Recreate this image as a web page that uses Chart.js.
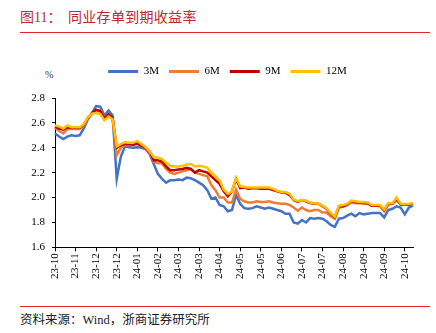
<!DOCTYPE html>
<html>
<head>
<meta charset="utf-8">
<script src="https://cdn.jsdelivr.net/npm/chart.js@4.4.0/dist/chart.umd.min.js"></script>
<style>
  html, body { margin:0; padding:0; background:#fff; }
  body { width:436px; height:333px; position:relative; overflow:hidden; }
  .t { position:absolute; white-space:pre; font-family:"Liberation Serif","Noto Sans CJK SC",serif; }
  .rule { position:absolute; left:20px; width:410px; height:1px; background:#E0282E; }
  #wrap { position:absolute; left:0; top:48px; width:436px; height:233px; }
</style>
</head>
<body>
<div class="t" style="left:20px;top:10px;font-size:14px;line-height:16px;color:#C0282D;">图11：</div>
<div class="t" style="left:68px;top:10px;font-size:14px;line-height:16px;color:#C0282D;letter-spacing:0.3px;">同业存单到期收益率</div>
<div class="rule" style="top:32px;"></div>
<div class="t" style="left:45px;top:69px;font-size:10px;line-height:12px;color:#333;">%</div>
<div id="wrap"><canvas id="c"></canvas></div>
<div class="rule" style="top:306px;"></div>
<div class="t" style="left:20px;top:313px;font-size:12.5px;line-height:15px;color:#222;">资料来源：Wind，浙商证券研究所</div>
<script>
const tickLabels = ['23-10','23-11','23-12','23-12','24-01','24-02','24-03','24-03','24-04','24-05','24-05','24-06','24-07','24-07','24-08','24-09','24-09','24-10'];
const seriesNames = ['3M','6M','9M','12M'];
const values3M = [2.515,2.49,2.47,2.49,2.50,2.495,2.50,2.555,2.63,2.68,
 2.735,2.73,2.66,2.70,2.66,2.15,2.33,2.41,2.405,2.40,
 2.405,2.40,2.39,2.35,2.27,2.19,2.15,2.12,2.14,2.14,
 2.145,2.14,2.16,2.155,2.14,2.12,2.10,2.06,1.99,2.00,
 1.94,1.93,1.89,1.90,2.02,1.95,1.915,1.91,1.915,1.93,
 1.92,1.91,1.92,1.91,1.90,1.89,1.87,1.87,1.80,1.79,
 1.82,1.80,1.835,1.83,1.835,1.83,1.81,1.78,1.765,1.83,
 1.835,1.855,1.87,1.85,1.875,1.865,1.87,1.875,1.875,1.875,
 1.84,1.90,1.91,1.93,1.92,1.865,1.92,1.935];
const values6M = [2.56,2.535,2.515,2.55,2.55,2.55,2.55,2.58,2.635,2.67,
 2.70,2.70,2.64,2.66,2.63,2.34,2.40,2.42,2.425,2.42,
 2.43,2.41,2.40,2.36,2.29,2.275,2.275,2.23,2.20,2.19,
 2.20,2.21,2.22,2.23,2.20,2.19,2.18,2.17,2.10,2.06,
 2.00,2.00,1.96,1.96,2.065,1.99,1.97,1.96,1.96,1.97,
 1.965,1.965,1.97,1.96,1.955,1.95,1.95,1.94,1.92,1.895,
 1.92,1.90,1.89,1.90,1.90,1.88,1.88,1.85,1.83,1.92,
 1.925,1.94,1.96,1.955,1.955,1.95,1.95,1.935,1.935,1.93,
 1.89,1.945,1.95,1.98,1.945,1.945,1.94,1.945];
const values9M = [2.57,2.555,2.545,2.565,2.56,2.56,2.56,2.585,2.64,2.68,
 2.705,2.695,2.635,2.67,2.64,2.40,2.42,2.43,2.43,2.425,
 2.435,2.415,2.40,2.37,2.30,2.30,2.29,2.25,2.22,2.22,
 2.225,2.23,2.24,2.23,2.20,2.22,2.21,2.20,2.17,2.14,
 2.11,2.05,2.01,2.05,2.15,2.075,2.08,2.07,2.075,2.075,
 2.07,2.07,2.07,2.06,2.05,2.04,2.04,2.02,1.98,1.965,
 1.98,1.97,1.955,1.95,1.95,1.93,1.91,1.87,1.84,1.93,
 1.93,1.945,1.97,1.965,1.96,1.96,1.955,1.935,1.935,1.935,
 1.90,1.95,1.95,1.99,1.945,1.945,1.945,1.95];
const values12M = [2.58,2.57,2.555,2.58,2.565,2.565,2.565,2.59,2.645,2.675,
 2.68,2.67,2.62,2.65,2.63,2.41,2.43,2.445,2.44,2.44,
 2.455,2.43,2.405,2.37,2.325,2.32,2.31,2.28,2.255,2.25,
 2.25,2.255,2.265,2.27,2.25,2.255,2.25,2.24,2.20,2.17,
 2.14,2.065,2.03,2.05,2.16,2.09,2.085,2.08,2.08,2.08,
 2.08,2.08,2.08,2.07,2.055,2.045,2.045,2.03,1.985,1.97,
 1.98,1.975,1.96,1.955,1.95,1.935,1.915,1.875,1.845,1.935,
 1.94,1.95,1.975,1.97,1.965,1.965,1.96,1.94,1.94,1.94,
 1.905,1.955,1.955,2.00,1.95,1.948,1.95,1.955];
const colors = ['#4472C4','#ED7D31','#C00000','#FFC000'];
const TICK_EVERY = 5;
const categories = values3M.map((_, i) => (i % TICK_EVERY === 0 && tickLabels[i / TICK_EVERY]) ? tickLabels[i / TICK_EVERY] : '');
const allValues = [values3M, values6M, values9M, values12M];

Chart.defaults.font.family = '"Liberation Serif","Times New Roman",serif';
Chart.defaults.font.size = 11;
Chart.defaults.color = '#000';

const legendTweak = {
  id: 'legendTweak',
  beforeLayout(chart) {
    const lg = chart.legend;
    if (lg && !lg._tweaked) {
      const fit = lg.fit;
      lg.fit = function () { fit.call(this); this.height += 11; };
      lg._tweaked = true;
    }
  },
  afterLayout(chart) {
    const lg = chart.legend;
    if (lg) { lg.left += 8.5; lg.right += 8.5; }
  }
};

new Chart(document.getElementById('c'), {
  type: 'line',
  data: {
    labels: categories,
    datasets: allValues.map((v, k) => ({
      label: seriesNames[k],
      data: v,
      borderColor: colors[k],
      backgroundColor: colors[k],
      borderWidth: 2.5,
      pointRadius: 0,
      tension: 0,
      order: 4 - k
    }))
  },
  plugins: [legendTweak],
  options: {
    responsive: true,
    maintainAspectRatio: false,
    animation: false,
    layout: { padding: { left: 25, right: 23, top: 8, bottom: 0 } },
    plugins: {
      tooltip: { enabled: false },
      legend: {
        position: 'top',
        labels: {
          boxWidth: 30, boxHeight: 3, padding: 10,
          font: { size: 11 }, color: '#000',
          sort: (a, b) => a.datasetIndex - b.datasetIndex,
          generateLabels(chart) {
            const items = Chart.defaults.plugins.legend.labels.generateLabels(chart);
            items.forEach(it => { it.lineWidth = 0; it.fillStyle = it.strokeStyle; });
            return items;
          }
        }
      }
    },
    scales: {
      x: {
        type: 'category',
        offset: false,
        grid: { display: true, drawOnChartArea: false, drawTicks: true, tickLength: 4, color: '#000' },
        border: { display: true, color: '#000', width: 1 },
        ticks: {
          autoSkip: false, maxRotation: 90, minRotation: 90, padding: 2,
          font: { size: 11 }, color: '#000',
          callback(value, index) { return index % TICK_EVERY === 0 && tickLabels[index / TICK_EVERY] ? tickLabels[index / TICK_EVERY] : null; }
        }
      },
      y: {
        min: 1.6, max: 2.8,
        grid: { display: true, drawOnChartArea: false, drawTicks: true, tickLength: 3, color: '#000' },
        border: { display: true, color: '#000', width: 1 },
        ticks: { stepSize: 0.2, padding: 7, font: { size: 11 }, color: '#000', callback: v => Number(v).toFixed(1) },
        afterFit(scale) { scale.width = 30; }
      }
    }
  }
});
</script>
</body>
</html>
